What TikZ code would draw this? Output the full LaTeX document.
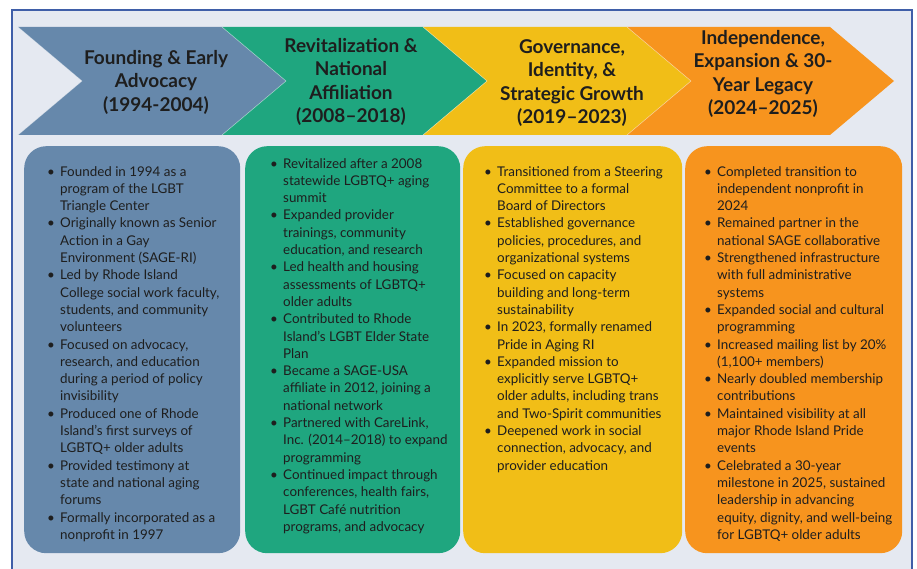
\documentclass[tikz,border=0pt]{standalone}
\usepackage{fontspec}
\setmainfont{Lato}
\usetikzlibrary{positioning}

\definecolor{slate}{HTML}{6688AB}
\definecolor{teal}{HTML}{1FA67F}
\definecolor{gold}{HTML}{F1BE17}
\definecolor{amber}{HTML}{F7941E}
\definecolor{panelbg}{HTML}{E5E9F1}
\definecolor{rimblue}{HTML}{3F5EA8}
\definecolor{ink}{HTML}{1E1E1E}

% bullet and continuation line starts
\newcommand{\itm}{\makebox[13pt][l]{\textbullet}}
\newcommand{\cnt}{\hspace*{13pt}}

\begin{document}
\begin{tikzpicture}[
    x=1pt, y=-1pt,
    panel/.style={rounded corners=22pt, minimum height=407pt, inner sep=0pt, anchor=north west},
    head/.style={align=center, text=ink, font=\bfseries\fontsize{19}{23.5}\selectfont},
    body/.style={align=left, inner sep=0pt, text=ink, font=\fontsize{13.4}{17.3}\selectfont}
  ]
  \useasboundingbox (0,0) rectangle (917,569);
  \clip (0,0) rectangle (917,569);

  %% ---- frame ----
  \draw[rimblue, line width=1.2pt, fill=panelbg] (12,10) rectangle (912,600);

  %% ---- chevrons ----
  \foreach \b/\f/\col in {18/222/slate, 222/423/teal, 423/627/gold, 627/830/amber}{
    \fill[\col] (\b,27) -- (\f,27) -- (\f+64,81) -- (\f,135) -- (\b,135) -- (\b+64,81) -- cycle;
    \draw[white, opacity=0.45, line width=0.6pt] (\b,27) -- (\b+64,81) -- (\b,135);
  }

  \node[head] (h1) at (156,82) {Founding \& Early\\Advocacy\\(1994-2004)};
  \node[head] (h2) at (351,82) {Revitalization \&\\National\\Affiliation\\(2008–2018)};
  \node[head] (h3) at (572,83) {Governance,\\Identity, \&\\Strategic Growth\\(2019–2023)};
  \node[head] (h4) at (763,74) {Independence,\\Expansion \& 30-\\Year Legacy\\(2024–2025)};

  %% ---- panels ----
  \node[panel, fill=slate, minimum width=216pt] (box1) at (24,146) {};
  \node[panel, fill=teal,  minimum width=215pt] (box2) at (245,146) {};
  \node[panel, fill=gold,  minimum width=219pt] (box3) at (463,146) {};
  \node[panel, fill=amber, minimum width=217pt] (box4) at (685,146) {};

  %% ---- bullet lists ----
  \node[body, below right=20pt and 23pt of box1.north west] (t1) {%
    \itm Founded in 1994 as a\\ \cnt program of the LGBT\\ \cnt Triangle Center\\
    \itm Originally known as Senior\\ \cnt Action in a Gay\\ \cnt Environment (SAGE-RI)\\
    \itm Led by Rhode Island\\ \cnt College social work faculty,\\ \cnt students, and community\\ \cnt volunteers\\
    \itm Focused on advocacy,\\ \cnt research, and education\\ \cnt during a period of policy\\ \cnt invisibility\\
    \itm Produced one of Rhode\\ \cnt Island’s first surveys of\\ \cnt LGBTQ+ older adults\\
    \itm Provided testimony at\\ \cnt state and national aging\\ \cnt forums\\
    \itm Formally incorporated as a\\ \cnt nonprofit in 1997};

  \node[body, below right=12pt and 25pt of box2.north west] (t2) {%
    \itm Revitalized after a 2008\\ \cnt statewide LGBTQ+ aging\\ \cnt summit\\
    \itm Expanded provider\\ \cnt trainings, community\\ \cnt education, and research\\
    \itm Led health and housing\\ \cnt assessments of LGBTQ+\\ \cnt older adults\\
    \itm Contributed to Rhode\\ \cnt Island’s LGBT Elder State\\ \cnt Plan\\
    \itm Became a SAGE-USA\\ \cnt affiliate in 2012, joining a\\ \cnt national network\\
    \itm Partnered with CareLink,\\ \cnt Inc. (2014–2018) to expand\\ \cnt programming\\
    \itm Continued impact through\\ \cnt conferences, health fairs,\\ \cnt LGBT Café nutrition\\ \cnt programs, and advocacy};

  \node[body, below right=20pt and 21pt of box3.north west] (t3) {%
    \itm Transitioned from a Steering\\ \cnt Committee to a formal\\ \cnt Board of Directors\\
    \itm Established governance\\ \cnt policies, procedures, and\\ \cnt organizational systems\\
    \itm Focused on capacity\\ \cnt building and long-term\\ \cnt sustainability\\
    \itm In 2023, formally renamed\\ \cnt Pride in Aging RI\\
    \itm Expanded mission to\\ \cnt explicitly serve LGBTQ+\\ \cnt older adults, including trans\\ \cnt and Two-Spirit communities\\
    \itm Deepened work in social\\ \cnt connection, advocacy, and\\ \cnt provider education};

  \node[body, below right=20pt and 19pt of box4.north west] (t4) {%
    \itm Completed transition to\\ \cnt independent nonprofit in\\ \cnt 2024\\
    \itm Remained partner in the\\ \cnt national SAGE collaborative\\
    \itm Strengthened infrastructure\\ \cnt with full administrative\\ \cnt systems\\
    \itm Expanded social and cultural\\ \cnt programming\\
    \itm Increased mailing list by 20\%\\ \cnt (1,100+ members)\\
    \itm Nearly doubled membership\\ \cnt contributions\\
    \itm Maintained visibility at all\\ \cnt major Rhode Island Pride\\ \cnt events\\
    \itm Celebrated a 30-year\\ \cnt milestone in 2025, sustained\\ \cnt leadership in advancing\\ \cnt equity, dignity, and well-being\\ \cnt for LGBTQ+ older adults};

\end{tikzpicture}
\end{document}
